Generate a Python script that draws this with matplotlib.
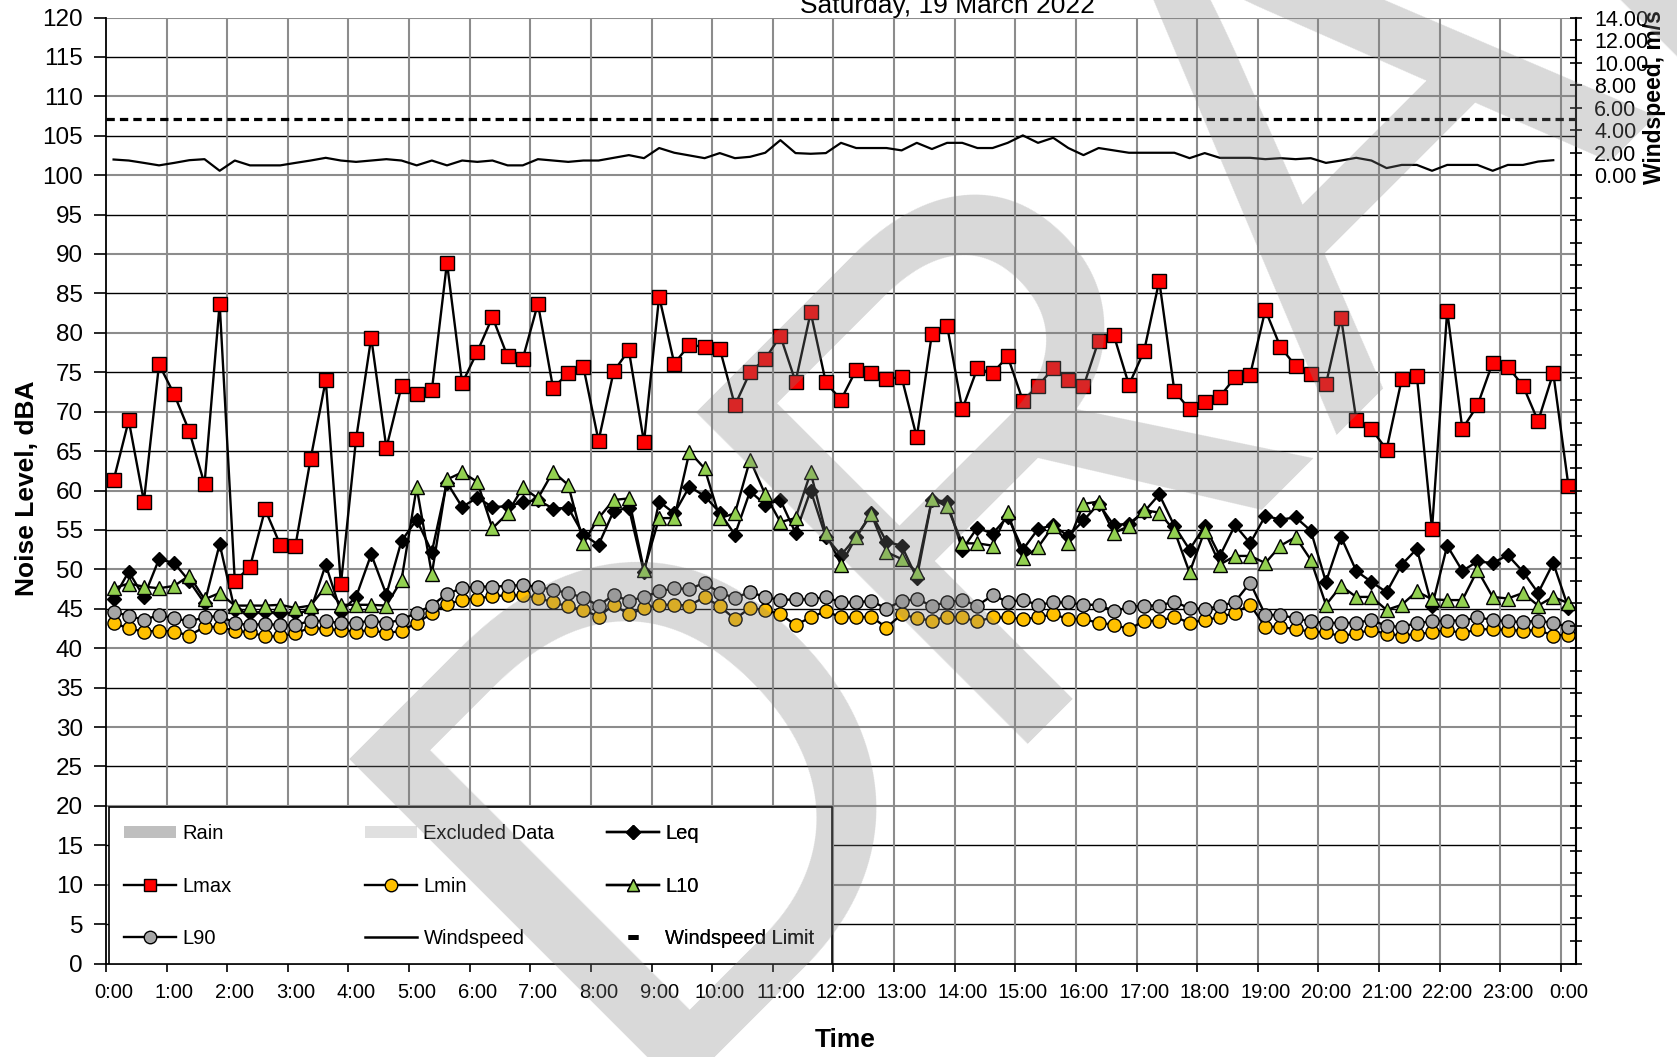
import numpy as np
import matplotlib
matplotlib.use('Agg')
import matplotlib.pyplot as plt
from matplotlib.lines import Line2D
from matplotlib.patches import Patch, Rectangle
from matplotlib.ticker import FuncFormatter

plt.rcParams['font.family'] = ['Liberation Sans', 'DejaVu Sans']

title = 'Saturday, 19 March 2022'

# 15 minute periods, first one plotted at 0:07:30
lmax = [61.3, 68.9, 58.6, 76.0, 72.2, 67.5, 60.8, 83.7, 48.5, 50.3,
        57.6, 53.1, 53.0, 64.0, 74.0, 48.1, 66.5, 79.4, 65.4, 73.2,
        72.3, 72.7, 88.9, 73.6, 77.6, 82.0, 77.0, 76.7, 83.7, 73.0,
        74.9, 75.7, 66.3, 75.1, 77.8, 66.1, 84.6, 76.1, 78.5, 78.2,
        78.0, 70.8, 75.0, 76.7, 79.6, 73.8, 82.6, 73.7, 71.5, 75.3,
        74.9, 74.2, 74.35, 66.75, 79.9, 80.9, 70.3, 75.5, 74.9, 77.0,
        71.4, 73.25, 75.5, 74.0, 73.2, 79.0, 79.7, 73.4, 77.7, 86.6,
        72.6, 70.3, 71.2, 71.9, 74.35, 74.7, 82.9, 78.2, 75.8, 74.8,
        73.5, 81.9, 69.0, 67.8, 65.2, 74.1, 74.5, 55.1, 82.8, 67.8,
        70.8, 76.2, 75.7, 73.3, 68.8, 74.9, 60.6]

leq = [46.3, 49.7, 46.5, 51.3, 50.8, 48.5, 45.7, 53.2, 44.8, 44.5,
       44.6, 44.5, 44.4, 44.8, 50.6, 44.6, 46.5, 51.9, 46.8, 53.6,
       56.3, 52.2, 61.0, 57.9, 59.1, 57.9, 58.0, 58.5, 58.8, 57.7,
       57.8, 54.4, 53.1, 57.4, 57.8, 49.6, 58.6, 57.1, 60.5, 59.3,
       57.2, 54.4, 59.9, 58.2, 58.8, 54.6, 60.0, 54.1, 51.8, 54.1,
       57.1, 53.5, 53.0, 48.9, 58.8, 58.6, 52.5, 55.3, 54.5, 56.7,
       52.5, 55.1, 55.6, 54.2, 56.2, 58.3, 55.6, 55.8, 57.3, 59.5,
       55.5, 52.5, 55.5, 51.7, 55.6, 53.3, 56.8, 56.3, 56.6, 54.9,
       48.4, 54.1, 49.8, 48.4, 47.1, 50.6, 52.6, 45.3, 53.0, 49.8,
       51.0, 50.8, 51.8, 49.7, 47.0, 50.8, 45.1]

l10 = [47.6, 48.2, 47.8, 47.6, 47.9, 49.2, 46.2, 47.0, 45.4, 45.4,
       45.4, 45.5, 45.1, 45.4, 47.8, 45.5, 45.5, 45.5, 45.4, 48.65,
       60.4, 49.4, 61.4, 62.3, 61.1, 55.2, 57.1, 60.4, 59.0, 62.4,
       60.7, 53.4, 56.5, 58.8, 59.0, 49.9, 56.5, 56.5, 64.9, 62.8,
       56.5, 57.1, 63.9, 59.5, 56.0, 56.5, 62.3, 54.6, 50.6, 54.1,
       57.0, 52.2, 51.3, 49.7, 58.9, 58.0, 53.3, 53.3, 53.0, 57.3,
       51.4, 52.8, 55.5, 53.4, 58.3, 58.6, 54.6, 55.5, 57.5, 57.2,
       54.9, 49.6, 54.9, 50.6, 51.7, 51.7, 50.8, 53.0, 54.1, 51.2,
       45.5, 47.9, 46.5, 46.5, 44.85, 45.5, 47.2, 46.2, 46.1, 46.1,
       49.9, 46.5, 46.3, 47.0, 45.4, 46.5, 45.7]

l90 = [44.6, 44.1, 43.6, 44.2, 43.8, 43.4, 43.9, 44.1, 43.2, 42.9,
       43.1, 42.9, 42.9, 43.5, 43.4, 43.2, 43.2, 43.5, 43.2, 43.6,
       44.5, 45.4, 46.9, 47.6, 47.8, 47.8, 47.9, 48.0, 47.8, 47.4,
       47.0, 46.4, 45.4, 46.75, 46.0, 46.5, 47.2, 47.6, 47.5, 48.3,
       47.0, 46.4, 47.1, 46.5, 46.1, 46.2, 46.2, 46.5, 45.8, 45.8,
       46.0, 45.0, 46.0, 46.2, 45.4, 45.8, 46.1, 45.4, 46.7, 45.9,
       46.1, 45.5, 45.8, 45.8, 45.5, 45.5, 44.7, 45.2, 45.4, 45.4,
       45.9, 45.05, 45.0, 45.3, 45.9, 48.3, 44.2, 44.2, 43.8, 43.4,
       43.2, 43.2, 43.2, 43.6, 42.8, 42.7, 43.2, 43.4, 43.5, 43.5,
       43.9, 43.6, 43.4, 43.3, 43.5, 43.2, 42.7]

lmin = [43.2, 42.5, 42.1, 42.2, 42.1, 41.6, 42.7, 42.7, 42.2, 42.0,
        41.5, 41.5, 41.9, 42.6, 42.4, 42.3, 42.1, 42.3, 41.9, 42.2,
        43.2, 44.4, 45.6, 46.1, 46.3, 46.6, 46.7, 46.7, 46.4, 45.8,
        45.3, 44.85, 44.0, 45.5, 44.3, 45.05, 45.5, 45.5, 45.4, 46.5,
        45.3, 43.7, 45.1, 44.85, 44.3, 42.95, 43.9, 44.7, 43.9, 43.9,
        44.0, 42.6, 44.3, 43.8, 43.5, 44.0, 43.9, 43.4, 43.9, 43.9,
        43.7, 43.9, 44.3, 43.7, 43.7, 43.2, 43.0, 42.4, 43.45, 43.45,
        44.0, 43.2, 43.6, 43.9, 44.5, 45.5, 42.7, 42.7, 42.4, 42.1,
        42.0, 41.5, 41.9, 42.3, 41.8, 41.6, 41.8, 42.0, 42.3, 41.9,
        42.4, 42.4, 42.3, 42.2, 42.3, 41.6, 41.7]

windspeed = [1.39, 1.30, 1.09, 0.87, 1.09, 1.33, 1.42, 0.39, 1.30, 0.87,
             0.87, 0.87, 1.09, 1.30, 1.54, 1.30, 1.18, 1.30, 1.42, 1.30,
             0.87, 1.30, 0.87, 1.30, 1.18, 1.30, 0.87, 0.87, 1.42, 1.30,
             1.18, 1.30, 1.30, 1.54, 1.78, 1.51, 2.41, 1.99, 1.75, 1.51,
             1.96, 1.51, 1.63, 1.99, 3.11, 1.96, 1.90, 1.96, 2.87, 2.41,
             2.41, 2.41, 2.20, 2.87, 2.32, 2.87, 2.87, 2.41, 2.41, 2.87,
             3.53, 2.87, 3.32, 2.41, 1.78, 2.41, 2.20, 1.99, 1.99, 1.99,
             1.99, 1.51, 1.96, 1.54, 1.54, 1.54, 1.42, 1.51, 1.42, 1.51,
             1.09, 1.30, 1.54, 1.30, 0.63, 0.91, 0.91, 0.39, 0.91, 0.91,
             0.91, 0.39, 0.91, 0.91, 1.21, 1.33]
wind_limit = 5.0

hour_labels = ['%d:00' % (h % 24) for h in range(25)]

times = 0.125 + 0.25 * np.arange(len(lmax))
wind_times = times[:len(windspeed)]

W, H = 1677, 1057
GRAY = '#8c8c8c'
FS = 14.5


def fx(px):
    return px / W


def fy(py):
    return 1 - py / H


fig = plt.figure(figsize=(W / 100, H / 100), dpi=100)
fig.patch.set_facecolor('white')

ax = fig.add_axes([fx(106), fy(963.5), fx(1576) - fx(106), fy(17.5) - fy(963.5)])
ax.set_facecolor('none')
ax2 = ax.twinx()
ax2.set_facecolor('none')

# grid
yt = np.arange(0, 121, 5)
for v in yt[1:]:
    if v % 10 == 0:
        ax.axhline(v, color=GRAY, lw=1.5, zorder=1)
    else:
        ax.axhline(v, color='black', lw=1.0, zorder=1)
for h in range(1, 25):
    ax.axvline(h, color=GRAY, lw=1.5, zorder=1)

style = dict(color='black', lw=1.7, mec='black', mew=1.0)
ax.plot(times, leq, marker='D', ms=7.5, mfc='black', zorder=3, **style)
ax.plot(times, lmax, marker='s', ms=9.5, mfc='#ff0000', zorder=4, **style)
ax.plot(times, lmin, marker='o', ms=9.5, mfc='#ffc000', zorder=5, **style)
ax.plot(times, l10, marker='^', ms=10, mfc='#92d050', zorder=6, **style)
ax.plot(times, l90, marker='o', ms=9.5, mfc='#a6a6a6', zorder=7, **style)

ax.set_xlim(0, 24.25)
ax.set_ylim(0, 120)
ax.set_yticks(yt)
# tick marks on the hour, labels centred on the first 15 min period of each hour
ax.set_xticks(range(25))
ax.set_xticklabels([])
ax.set_xticks(np.arange(25) + 0.125, minor=True)
ax.set_xticklabels(hour_labels, minor=True)
ax.tick_params(axis='y', direction='out', length=8.5, width=1.2, pad=8, labelsize=17.5)
ax.tick_params(axis='x', which='major', direction='out', length=6, width=1.2)
ax.tick_params(axis='x', which='minor', length=0, pad=14, labelsize=FS)
ax.spines['top'].set_visible(False)
ax.spines['right'].set_visible(False)
for s in ['left', 'bottom']:
    ax.spines[s].set_linewidth(1.3)

ax2.plot(wind_times, windspeed, color='black', lw=1.6, zorder=3)
ax2.axhline(wind_limit, color='black', lw=2.3, ls=(0, (2.6, 1.6)), zorder=3)
ax2.set_ylim(-70, 14)
ax2.set_yticks(np.arange(-70, 15, 2))
ax2.yaxis.set_major_formatter(FuncFormatter(lambda v, p: '%.2f' % v if v > -0.01 else ''))
ax2.tick_params(axis='y', direction='inout', length=8, width=1.2, pad=9, labelsize=15.5)
for s in ['top', 'left', 'bottom']:
    ax2.spines[s].set_visible(False)
ax2.spines['right'].set_linewidth(1.5)

# axis titles
fig.text(fx(947), fy(13), title, ha='center', va='baseline', fontsize=19)
fig.text(fx(27), fy(488), 'Noise Level, dBA', rotation=90, ha='center', va='center',
         fontsize=19, fontweight='bold')
fig.text(fx(845), fy(1040), 'Time', ha='center', va='center', fontsize=19, fontweight='bold')
fig.text(fx(1655), fy(97), 'Windspeed, m/s', rotation=90, ha='center', va='center',
         fontsize=16.5, fontweight='bold')

# legend
box = Rectangle((0.002, 0.0), 0.492, 0.1654, transform=ax2.transAxes,
                facecolor='white', edgecolor='black', lw=1.2, zorder=10)
ax2.add_patch(box)

mk = dict(color='black', lw=1.7, mec='black', mew=1.0)
columns = [
    [(Patch(facecolor='#bfbfbf', edgecolor='none'), 'Rain'),
     (Line2D([], [], marker='s', ms=9, mfc='#ff0000', **mk), 'Lmax'),
     (Line2D([], [], marker='o', ms=9, mfc='#a6a6a6', **mk), 'L90')],
    [(Patch(facecolor='#e0e0e0', edgecolor='none'), 'Excluded Data'),
     (Line2D([], [], marker='o', ms=9, mfc='#ffc000', **mk), 'Lmin'),
     (Line2D([], [], color='black', lw=1.8), 'Windspeed')],
    [(Line2D([], [], marker='D', ms=7, mfc='black', **mk), 'Leq'),
     (Line2D([], [], marker='^', ms=9, mfc='#92d050', **mk), 'L10'),
     (Line2D([], [], ls='none', marker='_', ms=7, mew=3.5, color='black'), 'Windspeed Limit')],
]
col_x = [0.0122, 0.1762, 0.3408]
for cx, col in zip(col_x, columns):
    leg = ax2.legend([c[0] for c in col], [c[1] for c in col], loc='center left',
                     bbox_to_anchor=(cx, 0.0819), bbox_transform=ax2.transAxes,
                     frameon=False, fontsize=FS, borderpad=0, borderaxespad=0,
                     handlelength=2.6, handleheight=0.55, handletextpad=0.3,
                     labelspacing=1.66)
    leg.set_zorder(11)
    ax2.add_artist(leg)

# translucent DRAFT watermark laid over the whole chart
fig.text(fx(625), fy(1091), 'DRAFT', fontsize=490, rotation=45, rotation_mode='anchor',
         ha='left', va='baseline', color='#808080', alpha=0.3, zorder=20)

fig.savefig('out.png', dpi=100, facecolor='white')
